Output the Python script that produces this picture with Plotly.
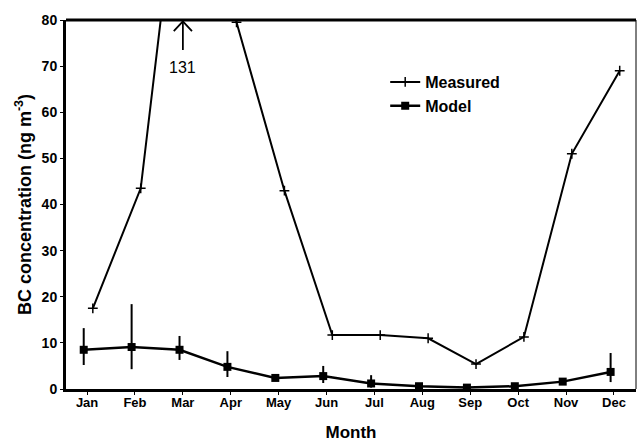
import plotly.graph_objects as go

months = ["Jan", "Feb", "Mar", "Apr", "May", "Jun", "Jul", "Aug", "Sep", "Oct", "Nov", "Dec"]
measured = [17.5, 43.5, 131, 79.5, 43, 11.7, 11.7, 11.0, 5.4, 11.3, 51, 69]
model = [8.5, 9.1, 8.5, 4.8, 2.4, 2.8, 1.2, 0.6, 0.3, 0.6, 1.6, 3.7]
model_upper = [13.2, 18.4, 11.5, 8.2, 3.0, 5.0, 3.0, 0.9, 0.6, 1.0, 2.0, 7.8]
model_lower = [5.2, 4.3, 6.3, 2.6, 2.0, 1.3, 0.3, 0.3, 0.1, 0.3, 1.3, 1.5]
y_ticks = [0, 10, 20, 30, 40, 50, 60, 70, 80]

MEASURED_SHIFT = 0.12
MODEL_SHIFT = -0.07
ARROW_X = 2
ARROW_LABEL = "131"
idx = list(range(len(months)))

FONT = "Liberation Sans"

fig = go.Figure()
fig.add_trace(go.Scatter(
    x=[i + MEASURED_SHIFT for i in idx], y=measured, name="Measured",
    mode="lines+markers",
    line=dict(color="black", width=2),
    marker=dict(symbol="cross-thin", size=7, line=dict(color="black", width=1.5)),
))
fig.add_trace(go.Scatter(
    x=[i + MODEL_SHIFT for i in idx], y=model, name="Model",
    mode="lines+markers",
    line=dict(color="black", width=2.5),
    marker=dict(symbol="square", size=8, color="black"),
    error_y=dict(type="data", symmetric=False,
                 array=[u - v for u, v in zip(model_upper, model)],
                 arrayminus=[v - l for v, l in zip(model, model_lower)],
                 color="black", thickness=2, width=0),
))

# arrow: shaft + open head
hw, hh = 0.19, 2.4
fig.add_shape(type="line", xref="x", yref="y", x0=ARROW_X, x1=ARROW_X, y0=73.5, y1=79.7,
              line=dict(color="black", width=1.8))
fig.add_shape(type="path", xref="x", yref="y",
              path=f"M {ARROW_X - hw} {80 - hh} L {ARROW_X} 79.7 L {ARROW_X + hw} {80 - hh}",
              line=dict(color="black", width=1.8))
fig.add_annotation(x=ARROW_X, y=69.8, xref="x", yref="y", text=ARROW_LABEL, showarrow=False,
                   font=dict(family=FONT, size=16, color="black"))

fig.add_shape(type="line", xref="paper", yref="paper", x0=0, x1=1, y0=1, y1=1,
              line=dict(color="black", width=3))
fig.add_shape(type="line", xref="paper", yref="paper", x0=1, x1=1, y0=0, y1=1,
              line=dict(color="black", width=1))

fig.update_layout(
    width=639, height=442,
    margin=dict(l=66, r=3, t=20, b=53, autoexpand=False),
    paper_bgcolor="white", plot_bgcolor="white",
    font=dict(family=FONT, color="black"),
    showlegend=True,
    legend=dict(x=0.56, y=0.878, xanchor="left", yanchor="top", itemwidth=30,
                bgcolor="rgba(0,0,0,0)", tracegroupgap=6,
                font=dict(family=FONT, size=16, color="black", weight="bold")),
    xaxis=dict(range=[-0.44, 11.46], tickmode="array", tickvals=idx, ticktext=months,
               showgrid=False, zeroline=False, showline=True, linecolor="black", linewidth=3,
               ticks="outside", ticklen=3, tickcolor="black", automargin=False,
               ticklabelstandoff=-4,
               tickfont=dict(family=FONT, size=13, weight="bold"),
               title=dict(text="Month", font=dict(family=FONT, size=17, weight="bold"), standoff=18)),
    yaxis=dict(range=[0, 80], tickmode="array", tickvals=y_ticks,
               showgrid=False, zeroline=False, showline=True, linecolor="black", linewidth=3,
               ticks="outside", ticklen=3, tickcolor="black", automargin=False,
               tickfont=dict(family=FONT, size=14, weight="bold"),
               title=dict(text="BC concentration (ng m<sup>-3</sup>)",
                          font=dict(family=FONT, size=18, weight="bold"), standoff=6)),
)

fig.write_html("out.html", config={"displayModeBar": False})
with open("out.html", encoding="utf-8") as f:
    html = f.read()
html = html.replace("<head>", "<head><style>html,body{margin:0;padding:0;}</style>", 1)
with open("out.html", "w", encoding="utf-8") as f:
    f.write(html)
